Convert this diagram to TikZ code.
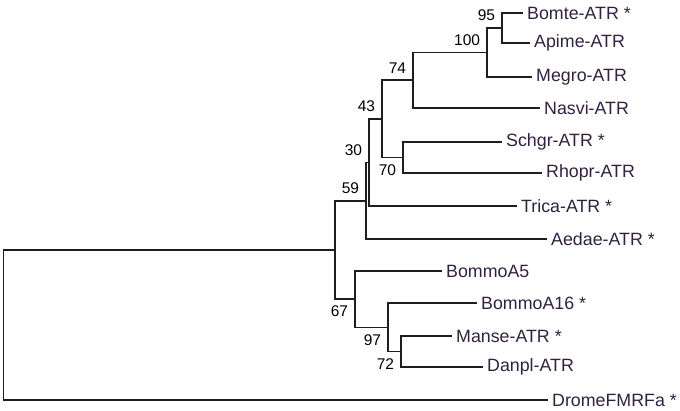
\documentclass[tikz,border=0pt]{standalone}
\usepackage{fontspec}
\setmainfont{Liberation Sans}
\usetikzlibrary{positioning}
\definecolor{leafcol}{RGB}{50,32,64}
\definecolor{linecol}{RGB}{30,30,30}

\begin{document}
\begin{tikzpicture}[x=1pt, y=1pt,
        branch/.style={draw=linecol, line width=1.2pt},
        leaf/.style={anchor=west, inner xsep=4pt, inner ysep=0pt, text=leafcol, font=\fontsize{17.8}{20}\selectfont},
        boot/.style={inner sep=0pt, font=\fontsize{15.5}{17}\selectfont},
        label distance=9.5pt]
            \useasboundingbox (0,0) rectangle (680,-410);

            % leaves
            \node [leaf] (bomte) at (523,-13) {Bomte-ATR *};
            \node [leaf] (apime) at (530,-43) {Apime-ATR};
            \node [leaf] (megro) at (532,-77) {Megro-ATR};
            \node [leaf] (nasvi) at (540,-108) {Nasvi-ATR};
            \node [leaf] (schgr) at (502,-142) {Schgr-ATR *};
            \node [leaf] (rhopr) at (542,-173) {Rhopr-ATR};
            \node [leaf] (trica) at (517,-206) {Trica-ATR *};
            \node [leaf] (aedae) at (547,-239) {Aedae-ATR *};
            \node [leaf] (bommoa5) at (442,-271) {BommoA5};
            \node [leaf] (bommoa16) at (477,-303) {BommoA16 *};
            \node [leaf] (manse) at (452,-336) {Manse-ATR *};
            \node [leaf] (danpl) at (483,-367) {Danpl-ATR};
            \node [leaf] (drome) at (548,-400) {DromeFMRFa *};

            % inner nodes with bootstrap values
            \coordinate [label={[boot]above left:95}] (n95) at (502,-28);
            \coordinate [label={[boot]above left:100}] (n100) at (487,-52.5);
            \coordinate [label={[boot]above left:74}] (n74) at (413,-80);
            \coordinate [label={[boot]above left:43}] (n43) at (382,-119);
            \coordinate [label={[boot]below left:70}] (n70) at (403,-157.5);
            \coordinate [label={[boot]above left:30}] (n30) at (369,-162.5);
            \coordinate [label={[boot]above left:59}] (n59) at (366,-201);
            \coordinate [label={[boot]below left:67}] (n67) at (355,-299);
            \coordinate [label={[boot]below left:97}] (n97) at (388,-327.5);
            \coordinate [label={[boot]below left:72}] (n72) at (401,-351.5);
            \coordinate (nin) at (335,-250);
            \coordinate (root) at (3.5,-325);

            \foreach \p/\c in {root/nin, nin/n59, nin/n67, n59/n30, n30/n43, n43/n74, n43/n70, n74/n100, n100/n95, n67/n97, n97/n72}
                \draw [branch] (\p) |- (\c);
            \foreach \p/\c in {root/drome, n59/aedae, n30/trica, n74/nasvi, n100/megro, n95/bomte, n95/apime, n70/schgr, n70/rhopr, n67/bommoa5, n97/bommoa16, n72/manse, n72/danpl}
                \draw [branch] (\p) |- (\c.west);
        \end{tikzpicture}
\end{document}
